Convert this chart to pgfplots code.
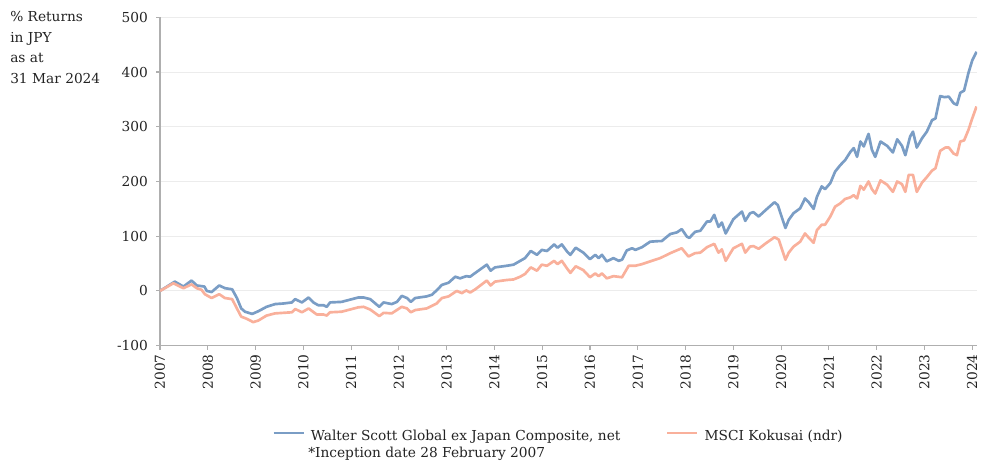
\documentclass[border=0pt]{standalone}
\usepackage{fontspec}
\setmainfont{DejaVu Serif}
\usepackage{pgfplots}
\pgfplotsset{compat=1.18}
\definecolor{wsblue}{RGB}{122,157,197}
\definecolor{msorange}{RGB}{249,176,155}
\definecolor{axisgray}{RGB}{175,175,175}
\definecolor{gridgray}{RGB}{236,236,236}
\definecolor{txt}{RGB}{35,35,35}
\newcommand{\chartfont}{\fontsize{10.3pt}{12pt}\selectfont}
\begin{document}
\begin{tikzpicture}
\useasboundingbox (-120pt,-89.5pt) rectangle (621.75pt,259.25pt);
\begin{axis}[
  at={(0pt,0pt)}, anchor=south west,
  scale only axis, width=612.75pt, height=246.3pt,
  xmin=2007, xmax=2024.1, ymin=-100, ymax=500,
  axis lines*=left,
  axis line style={-, draw=axisgray, line width=0.8pt},
  xtick={2007,2008,...,2024},
  ytick={-100,0,...,500},
  tick align=outside,
  major tick length=3pt,
  tick style={axisgray, line width=0.8pt},
  ymajorgrids, grid style={gridgray, line width=0.7pt},
  /pgf/number format/assume math mode=true,
  xticklabel style={rotate=90, anchor=east, font=\chartfont, text=txt, /pgf/number format/1000 sep={}},
  yticklabel style={font=\chartfont, text=txt, xshift=-2.5pt},
  legend style={at={(axis description cs:0.1371,-0.276)}, anchor=west, draw=none, fill=none,
    inner sep=0pt, nodes={inner sep=0pt, font=\chartfont, text=txt},
    /tikz/every odd column/.style={column sep=4.5pt}},
  legend columns=2,
  legend image code/.code={\draw[#1] (0pt,2.6pt) -- (22.5pt,2.6pt);},
]
\addplot[wsblue, line width=2pt, line join=round] coordinates {
(2007.00,0) (2007.31,17) (2007.49,8) (2007.66,19) (2007.77,10) (2007.93,8) (2007.98,0)
(2008.08,-2) (2008.24,10) (2008.36,5) (2008.51,3) (2008.61,-13) (2008.70,-32) (2008.78,-38)
(2008.93,-42) (2009.06,-37) (2009.23,-29) (2009.41,-24) (2009.58,-23) (2009.76,-21) (2009.83,-15)
(2009.97,-21) (2010.11,-12) (2010.21,-21) (2010.31,-26) (2010.42,-26) (2010.49,-29) (2010.56,-21)
(2010.80,-20) (2011.15,-12) (2011.26,-12) (2011.40,-15) (2011.59,-29) (2011.68,-21) (2011.85,-24)
(2011.96,-20) (2012.06,-9) (2012.17,-13) (2012.25,-20) (2012.34,-13) (2012.58,-10) (2012.69,-7)
(2012.79,1) (2012.90,11) (2013.04,15) (2013.18,26) (2013.28,23) (2013.41,27) (2013.49,26)
(2013.60,33) (2013.84,48) (2013.92,37) (2014.01,43) (2014.26,46) (2014.40,48) (2014.54,55)
(2014.64,60) (2014.76,73) (2014.89,66) (2014.99,75) (2015.10,73) (2015.25,85) (2015.32,79)
(2015.41,85) (2015.52,72) (2015.59,66) (2015.70,79) (2015.86,70) (2016.00,58) (2016.11,66)
(2016.18,60) (2016.25,66) (2016.35,54) (2016.49,60) (2016.60,55) (2016.67,57) (2016.77,74)
(2016.88,78) (2016.95,75) (2017.09,80) (2017.26,90) (2017.43,91) (2017.50,91) (2017.68,104)
(2017.82,107) (2017.92,113) (2018.03,99) (2018.08,97) (2018.20,108) (2018.31,110) (2018.45,127)
(2018.52,127) (2018.60,139) (2018.69,117) (2018.76,125) (2018.84,105) (2019.00,131) (2019.18,145)
(2019.25,128) (2019.35,142) (2019.42,144) (2019.53,136) (2019.68,148) (2019.86,162) (2019.93,157)
(2020.09,115) (2020.16,130) (2020.26,142) (2020.40,151) (2020.50,169) (2020.57,163) (2020.68,150)
(2020.75,172) (2020.85,191) (2020.92,186) (2021.03,197) (2021.13,218) (2021.24,230) (2021.34,239)
(2021.45,254) (2021.52,261) (2021.59,245) (2021.66,273) (2021.73,264) (2021.83,287) (2021.90,258)
(2021.97,245) (2022.08,273) (2022.22,265) (2022.34,253) (2022.43,277) (2022.53,265) (2022.60,248)
(2022.70,282) (2022.76,291) (2022.84,262) (2022.95,279) (2023.05,291) (2023.16,312) (2023.23,315)
(2023.33,356) (2023.42,354) (2023.51,355) (2023.61,343) (2023.68,340) (2023.75,362) (2023.83,366)
(2023.92,398) (2024.00,421) (2024.09,437)
};
\addlegendentry{\makebox[266.25pt][l]{Walter Scott Global ex Japan Composite, net}}
\addplot[msorange, line width=2pt, line join=round] coordinates {
(2007.00,0) (2007.28,14) (2007.49,5) (2007.66,12) (2007.77,5) (2007.87,2) (2007.94,-6)
(2008.08,-13) (2008.24,-6) (2008.36,-13) (2008.51,-15) (2008.61,-32) (2008.70,-47) (2008.82,-51)
(2008.95,-57) (2009.06,-54) (2009.23,-45) (2009.41,-41) (2009.76,-39) (2009.83,-33) (2009.97,-39)
(2010.11,-32) (2010.28,-43) (2010.42,-43) (2010.49,-45) (2010.56,-39) (2010.80,-38) (2011.15,-30)
(2011.26,-29) (2011.40,-34) (2011.59,-46) (2011.68,-40) (2011.85,-41) (2012.06,-29) (2012.17,-32)
(2012.25,-39) (2012.34,-35) (2012.58,-32) (2012.79,-23) (2012.90,-13) (2013.04,-10) (2013.21,0)
(2013.32,-4) (2013.41,1) (2013.49,-3) (2013.60,3) (2013.84,19) (2013.92,10) (2014.01,17)
(2014.26,20) (2014.40,21) (2014.54,26) (2014.64,31) (2014.76,43) (2014.89,37) (2014.99,48)
(2015.10,46) (2015.25,55) (2015.32,49) (2015.41,55) (2015.52,41) (2015.59,33) (2015.70,45)
(2015.86,38) (2016.00,25) (2016.11,32) (2016.18,27) (2016.25,32) (2016.35,23) (2016.49,27)
(2016.67,25) (2016.81,46) (2016.95,46) (2017.09,49) (2017.26,54) (2017.47,60) (2017.68,69)
(2017.92,78) (2018.06,63) (2018.20,69) (2018.31,70) (2018.45,80) (2018.60,86) (2018.69,70)
(2018.76,76) (2018.84,55) (2019.00,78) (2019.18,86) (2019.25,70) (2019.35,81) (2019.42,82)
(2019.53,77) (2019.68,87) (2019.86,98) (2019.95,94) (2020.09,57) (2020.16,70) (2020.26,81)
(2020.40,90) (2020.50,105) (2020.57,98) (2020.68,88) (2020.75,111) (2020.85,121) (2020.92,121)
(2021.03,136) (2021.13,154) (2021.24,160) (2021.34,168) (2021.45,171) (2021.52,175) (2021.59,169)
(2021.66,192) (2021.73,185) (2021.83,200) (2021.90,186) (2021.97,178) (2022.08,202) (2022.22,194)
(2022.34,181) (2022.43,200) (2022.53,195) (2022.60,181) (2022.67,212) (2022.76,212) (2022.84,181)
(2022.95,198) (2023.05,208) (2023.16,220) (2023.23,224) (2023.33,256) (2023.44,262) (2023.51,262)
(2023.61,251) (2023.68,248) (2023.75,273) (2023.83,275) (2023.92,294) (2024.00,315) (2024.09,337)
};
\addlegendentry{MSCI Kokusai (ndr)}
\end{axis}
\begin{scope}[every node/.style={anchor=base west, inner sep=0pt, font=\chartfont, text=txt}]
\node at (-112.5pt,243pt) {\% Returns};
\node at (-112.5pt,227.5pt) {in JPY};
\node at (-112.5pt,212pt) {as at};
\node at (-112.5pt,196.5pt) {31 Mar 2024};
\node at (111pt,-83.5pt) {*Inception date 28 February 2007};
\end{scope}
\end{tikzpicture}
\end{document}
